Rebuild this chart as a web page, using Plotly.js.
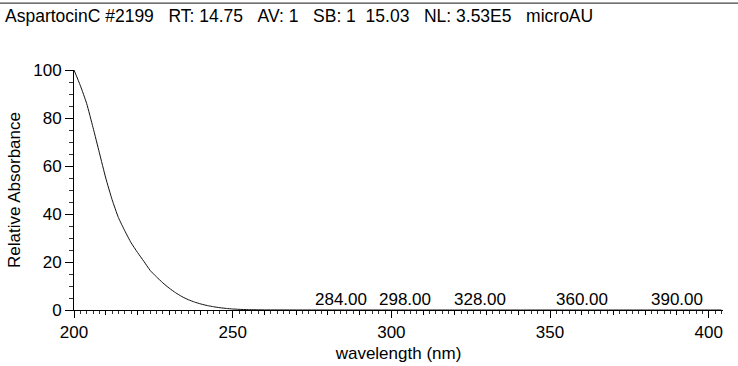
<!DOCTYPE html>
<html>
<head>
<meta charset="utf-8">
<script src="https://cdn.plot.ly/plotly-3.0.1.min.js"></script>
<style>html,body{margin:0;padding:0;background:#fff;}#chart{width:738px;height:366px;}</style>
</head>
<body>
<div id="chart"></div>
<script>
// Spectrum data (wavelength nm, relative absorbance)
var wavelength = [200, 202, 204, 206, 208, 210, 212, 214, 216, 218, 220, 222, 224, 226, 228, 230, 232, 234, 236, 238, 240, 242, 244, 246, 248, 250, 252, 255, 260, 270, 280, 300, 320, 340, 360, 380, 400, 404];
var absorbance = [100, 93.5, 86, 76, 65.5, 55, 46, 38.5, 33, 28, 24, 20.3, 16.5, 13.8, 11.3, 9.1, 7.2, 5.6, 4.3, 3.3, 2.5, 1.85, 1.35, 0.95, 0.65, 0.42, 0.27, 0.15, 0.05, 0.02, 0.01, 0, 0, 0, 0, 0, 0, 0];
// Peak labels
var peakWavelengths = [284, 298, 328, 360, 390];
var peakLabels = ["284.00", "298.00", "328.00", "360.00", "390.00"];
// Axis tick labels
var xTickValues = [200, 250, 300, 350, 400];
var yTickValues = [0, 20, 40, 60, 80, 100];
var headerText = "AspartocinC #2199   RT: 14.75   AV: 1   SB: 1  15.03   NL: 3.53E5   microAU";

var peakShift = {298: 20};
var FONT = 'Liberation Sans, Arial, sans-serif';

var xMid = [];
for (var v = 200; v <= 404; v += 10) xMid.push(v);

var traces = [
  {x: wavelength, y: absorbance, type: 'scatter', mode: 'lines',
   line: {color: '#111', width: 1, shape: 'spline', smoothing: 0.5}, hoverinfo: 'none', showlegend: false},
  {x: xTickValues, y: xTickValues.map(function(){return 0;}), xaxis: 'x2', yaxis: 'y',
   type: 'scatter', mode: 'markers', marker: {opacity: 0}, hoverinfo: 'none', showlegend: false}
];

var annotations = peakWavelengths.map(function(w, i){
  return {x: w, y: 0, xref: 'x', yref: 'y', text: peakLabels[i], showarrow: false,
    xanchor: 'center', yanchor: 'bottom', yshift: -1, xshift: peakShift[w] || 0,
    font: {family: FONT, size: 17, color: '#000'}};
});

var layout = {
  width: 738, height: 366,
  paper_bgcolor: '#fff', plot_bgcolor: '#fff',
  margin: {l: 74, r: 15.3, t: 69.5, b: 56, pad: 0},
  showlegend: false,
  title: {text: headerText.replace(/ /g, '\u00A0'), x: 5/738, xref: 'container', xanchor: 'left',
    y: 1 - 16/366, yref: 'container', yanchor: 'middle',
    font: {family: FONT, size: 17.5, color: '#000'}},
  xaxis: {range: [200, 404.5], showgrid: false, zeroline: false,
    showline: true, linecolor: '#000', linewidth: 1,
    tickmode: 'array', tickvals: xMid, ticktext: xMid.map(function(){return '';}),
    ticks: 'outside', ticklen: 4, tickwidth: 1, tickcolor: '#000',
    minor: {dtick: 2, tick0: 200, ticks: 'outside', ticklen: 3, tickwidth: 1, tickcolor: '#333'}},
  xaxis2: {overlaying: 'x', range: [200, 404.5], side: 'bottom', showgrid: false, zeroline: false,
    showline: false, tickmode: 'array', tickvals: xTickValues, ticktext: xTickValues.map(String),
    ticks: 'outside', ticklen: 7, tickwidth: 1, tickcolor: '#000',
    tickfont: {family: FONT, size: 17, color: '#000'},
    title: {text: 'wavelength (nm)', font: {family: FONT, size: 17, color: '#000'}, standoff: 5}},
  yaxis: {range: [0, 100], showgrid: false, zeroline: false,
    showline: true, linecolor: '#000', linewidth: 1,
    tickmode: 'array', tickvals: yTickValues, ticktext: yTickValues.map(String),
    ticks: 'outside', ticklen: 8, tickwidth: 1, tickcolor: '#000',
    minor: {dtick: 5, tick0: 0, ticks: 'outside', ticklen: 4, tickwidth: 1, tickcolor: '#333'},
    tickfont: {family: FONT, size: 17, color: '#000'},
    title: {text: 'Relative Absorbance', font: {family: FONT, size: 17, color: '#000'}, standoff: 8}},
  annotations: annotations,
  shapes: [{type: 'line', xref: 'paper', yref: 'paper', x0: -74/648.7, x1: 1 + 15.3/648.7,
    y0: 1 + 67/240.5, y1: 1 + 67/240.5, line: {color: '#444', width: 1.2}}]
};

Plotly.newPlot('chart', traces, layout, {staticPlot: true, displayModeBar: false});
</script>
</body>
</html>
